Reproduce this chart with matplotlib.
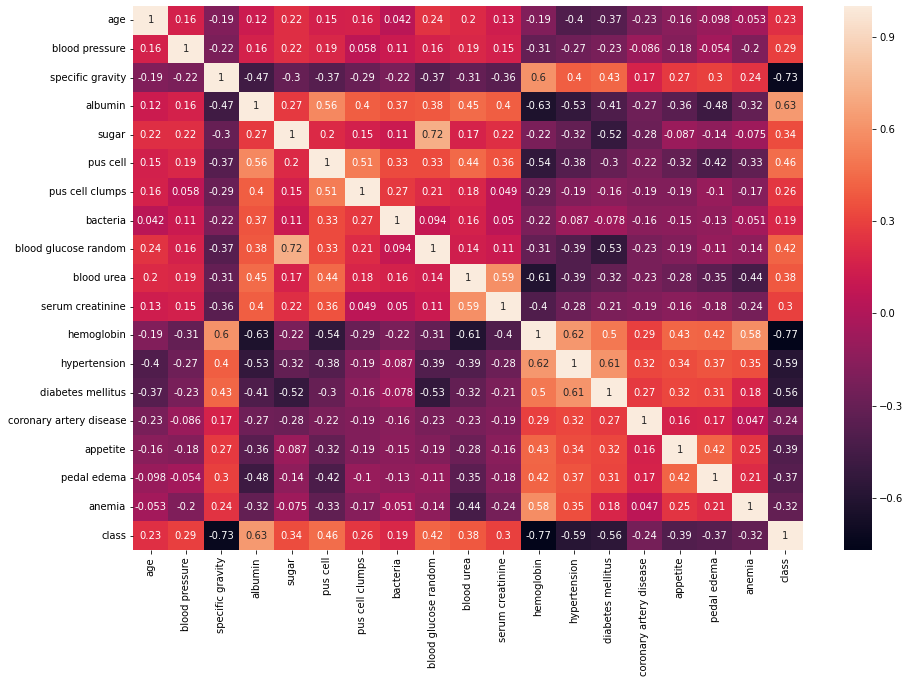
import numpy as np
import pandas as pd
import matplotlib
matplotlib.use('Agg')
import matplotlib.pyplot as plt
import seaborn as sns

labels = ['age', 'blood pressure', 'specific gravity', 'albumin', 'sugar', 'pus cell',
          'pus cell clumps', 'bacteria', 'blood glucose random', 'blood urea',
          'serum creatinine', 'hemoglobin', 'hypertension', 'diabetes mellitus',
          'coronary artery disease', 'appetite', 'pedal edema', 'anemia', 'class']

r_age    = [1, 0.16, -0.19, 0.12, 0.22, 0.15, 0.16, 0.042, 0.24, 0.2, 0.13, -0.19, -0.4, -0.37, -0.23, -0.16, -0.098, -0.053, 0.23]
r_bp     = [0.16, 1, -0.22, 0.16, 0.22, 0.19, 0.058, 0.11, 0.16, 0.19, 0.15, -0.31, -0.27, -0.23, -0.086, -0.18, -0.054, -0.2, 0.29]
r_sg     = [-0.19, -0.22, 1, -0.47, -0.3, -0.37, -0.29, -0.22, -0.37, -0.31, -0.36, 0.6, 0.4, 0.43, 0.17, 0.27, 0.3, 0.24, -0.73]
r_al     = [0.12, 0.16, -0.47, 1, 0.27, 0.56, 0.4, 0.37, 0.38, 0.45, 0.4, -0.63, -0.53, -0.41, -0.27, -0.36, -0.48, -0.32, 0.63]
r_su     = [0.22, 0.22, -0.3, 0.27, 1, 0.2, 0.15, 0.11, 0.72, 0.17, 0.22, -0.22, -0.32, -0.52, -0.28, -0.087, -0.14, -0.075, 0.34]
r_pc     = [0.15, 0.19, -0.37, 0.56, 0.2, 1, 0.51, 0.33, 0.33, 0.44, 0.36, -0.54, -0.38, -0.3, -0.22, -0.32, -0.42, -0.33, 0.46]
r_pcc    = [0.16, 0.058, -0.29, 0.4, 0.15, 0.51, 1, 0.27, 0.21, 0.18, 0.049, -0.29, -0.19, -0.16, -0.19, -0.19, -0.1, -0.17, 0.26]
r_ba     = [0.042, 0.11, -0.22, 0.37, 0.11, 0.33, 0.27, 1, 0.094, 0.16, 0.05, -0.22, -0.087, -0.078, -0.16, -0.15, -0.13, -0.051, 0.19]
r_bgr    = [0.24, 0.16, -0.37, 0.38, 0.72, 0.33, 0.21, 0.094, 1, 0.14, 0.11, -0.31, -0.39, -0.53, -0.23, -0.19, -0.11, -0.14, 0.42]
r_bu     = [0.2, 0.19, -0.31, 0.45, 0.17, 0.44, 0.18, 0.16, 0.14, 1, 0.59, -0.61, -0.39, -0.32, -0.23, -0.28, -0.35, -0.44, 0.38]
r_sc     = [0.13, 0.15, -0.36, 0.4, 0.22, 0.36, 0.049, 0.05, 0.11, 0.59, 1, -0.4, -0.28, -0.21, -0.19, -0.16, -0.18, -0.24, 0.3]
r_hemo   = [-0.19, -0.31, 0.6, -0.63, -0.22, -0.54, -0.29, -0.22, -0.31, -0.61, -0.4, 1, 0.62, 0.5, 0.29, 0.43, 0.42, 0.58, -0.77]
r_htn    = [-0.4, -0.27, 0.4, -0.53, -0.32, -0.38, -0.19, -0.087, -0.39, -0.39, -0.28, 0.62, 1, 0.61, 0.32, 0.34, 0.37, 0.35, -0.59]
r_dm     = [-0.37, -0.23, 0.43, -0.41, -0.52, -0.3, -0.16, -0.078, -0.53, -0.32, -0.21, 0.5, 0.61, 1, 0.27, 0.32, 0.31, 0.18, -0.56]
r_cad    = [-0.23, -0.086, 0.17, -0.27, -0.28, -0.22, -0.19, -0.16, -0.23, -0.23, -0.19, 0.29, 0.32, 0.27, 1, 0.16, 0.17, 0.047, -0.24]
r_appet  = [-0.16, -0.18, 0.27, -0.36, -0.087, -0.32, -0.19, -0.15, -0.19, -0.28, -0.16, 0.43, 0.34, 0.32, 0.16, 1, 0.42, 0.25, -0.39]
r_pe     = [-0.098, -0.054, 0.3, -0.48, -0.14, -0.42, -0.1, -0.13, -0.11, -0.35, -0.18, 0.42, 0.37, 0.31, 0.17, 0.42, 1, 0.21, -0.37]
r_ane    = [-0.053, -0.2, 0.24, -0.32, -0.075, -0.33, -0.17, -0.051, -0.14, -0.44, -0.24, 0.58, 0.35, 0.18, 0.047, 0.25, 0.21, 1, -0.32]
r_class  = [0.23, 0.29, -0.73, 0.63, 0.34, 0.46, 0.26, 0.19, 0.42, 0.38, 0.3, -0.77, -0.59, -0.56, -0.24, -0.39, -0.37, -0.32, 1]

rows = [r_age, r_bp, r_sg, r_al, r_su, r_pc, r_pcc, r_ba, r_bgr, r_bu, r_sc,
        r_hemo, r_htn, r_dm, r_cad, r_appet, r_pe, r_ane, r_class]
corr = pd.DataFrame(rows, index=labels, columns=labels)

W, H = 910, 683
fig = plt.figure(figsize=(W / 72, H / 72), dpi=72)
ax = fig.add_axes([133 / W, 1 - 550 / H, 670 / W, 544 / H])
cax = fig.add_axes([844 / W, 1 - 550 / H, 28 / W, 544 / H])

sns.heatmap(corr, annot=True, ax=ax, cbar_ax=cax, annot_kws={'fontsize': 10})
ax.tick_params(labelsize=10)
cax.tick_params(labelsize=10)
cax.set_yticks([-0.6, -0.3, 0.0, 0.3, 0.6, 0.9])

fig.savefig('out.png', dpi=72)
